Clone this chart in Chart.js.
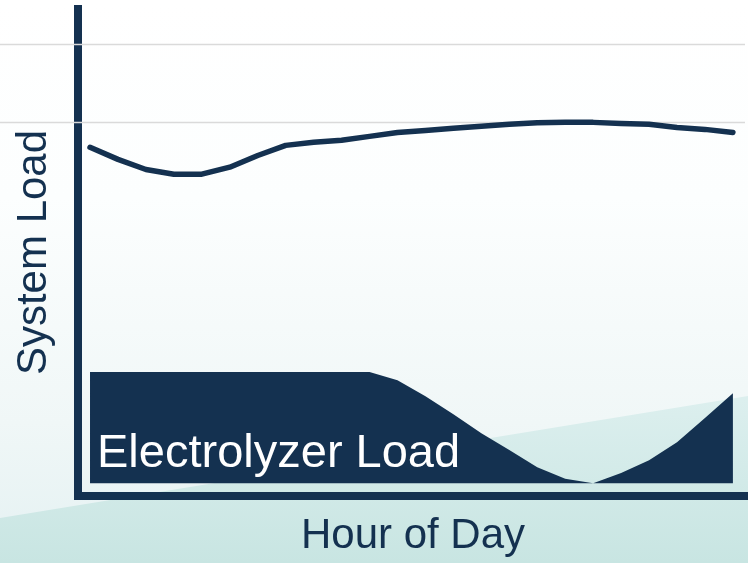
<!DOCTYPE html>
<html>
<head>
<meta charset="utf-8">
<script src="https://cdn.jsdelivr.net/npm/chart.js@4"></script>
<style>
  html, body { margin: 0; padding: 0; background: #ffffff; }
  #wrap { width: 748px; height: 563px; position: relative; }
</style>
</head>
<body>
<div id="wrap"><canvas id="loadChart"></canvas></div>
<script>
// hour of day (one point per hour)
const hours = [0, 1, 2, 3, 4, 5, 6, 7, 8, 9, 10, 11, 12, 13, 14, 15, 16, 17, 18, 19, 20, 21, 22, 23];
// system load, arbitrary units
const systemLoad = [89.5, 86.4, 83.8, 82.6, 82.6, 84.4, 87.4, 90.0, 90.8, 91.3, 92.3, 93.3,
                    93.8, 94.4, 94.9, 95.4, 95.8, 95.9, 95.9, 95.6, 95.4, 94.6, 94.1, 93.3];
// electrolyzer load, drawn down to a base level
const electrolyzerLoad = [31.8, 31.8, 31.8, 31.8, 31.8, 31.8, 31.8, 31.8, 31.8, 31.8, 31.8, 29.7,
                          25.6, 21.0, 16.1, 11.8, 7.4, 4.4, 3.3, 5.9, 9.2, 13.8, 20.0, 26.4];
const electrolyzerBase = 3.3;
// horizontal reference lines
const gridValues = [96, 116];

const NAVY = '#143150';

const backgroundPlugin = {
    id: 'slideBackground',
    beforeDraw(chart) {
        const { ctx, width, height } = chart;
        ctx.save();
        let g = ctx.createLinearGradient(0, 0, 0, height);
        g.addColorStop(0, '#ffffff');
        g.addColorStop(0.35, '#fcfefe');
        g.addColorStop(0.75, '#f0f7f7');
        g.addColorStop(1, '#e4f1f2');
        ctx.fillStyle = g;
        ctx.fillRect(0, 0, width, height);
        // darker teal band along the bottom, cut on a slant
        g = ctx.createLinearGradient(0, 400, 0, height);
        g.addColorStop(0, '#dcefee');
        g.addColorStop(1, '#c8e5e2');
        ctx.fillStyle = g;
        ctx.beginPath();
        ctx.moveTo(0, 518);
        ctx.lineTo(width, 396);
        ctx.lineTo(width, height);
        ctx.lineTo(0, height);
        ctx.closePath();
        ctx.fill();
        ctx.restore();
    }
};

const gridPlugin = {
    id: 'fullWidthGrid',
    beforeDatasetsDraw(chart) {
        const { ctx, width } = chart;
        const y = chart.scales.y;
        ctx.save();
        ctx.strokeStyle = '#dadada';
        ctx.lineWidth = 1.5;
        gridValues.forEach(v => {
            const py = Math.round(y.getPixelForValue(v)) + 0.5;
            ctx.beginPath();
            ctx.moveTo(0, py);
            ctx.lineTo(width - 3, py);
            ctx.stroke();
        });
        ctx.restore();
    }
};

const labelPlugin = {
    id: 'electrolyzerLabel',
    afterDatasetsDraw(chart) {
        const { ctx } = chart;
        const x = chart.scales.x.getPixelForValue(hours[0]) + 7;
        const y = chart.scales.y.getPixelForValue(electrolyzerBase) - 16;
        ctx.save();
        ctx.fillStyle = '#ffffff';
        ctx.font = '47px "Liberation Sans", Arial, sans-serif';
        ctx.textAlign = 'left';
        ctx.textBaseline = 'alphabetic';
        ctx.fillText('Electrolyzer Load', x, y);
        ctx.restore();
    }
};

new Chart(document.getElementById('loadChart'), {
    type: 'line',
    data: {
        datasets: [
            {
                label: 'System Load',
                data: hours.map((h, i) => ({ x: h, y: systemLoad[i] })),
                borderColor: NAVY,
                borderWidth: 5.5,
                borderCapStyle: 'round',
                borderJoinStyle: 'round',
                pointRadius: 0,
                tension: 0,
                fill: false
            },
            {
                label: 'Electrolyzer Load',
                data: hours.map((h, i) => ({ x: h, y: electrolyzerLoad[i] })),
                borderWidth: 0,
                borderColor: NAVY,
                backgroundColor: NAVY,
                pointRadius: 0,
                tension: 0,
                fill: { value: electrolyzerBase }
            }
        ]
    },
    options: {
        responsive: true,
        maintainAspectRatio: false,
        animation: false,
        layout: { padding: { top: 9, right: 0, bottom: 0, left: 0 } },
        plugins: {
            legend: { display: false },
            tooltip: { enabled: false }
        },
        scales: {
            x: {
                type: 'linear',
                min: -0.43,
                max: 23.54,
                grid: { display: false },
                ticks: { display: false },
                border: { display: true, color: NAVY, width: 8 },
                title: {
                    display: true,
                    text: 'Hour of Day',
                    color: NAVY,
                    font: { family: '"Liberation Sans", Arial, sans-serif', size: 42, lineHeight: 1.2 },
                    padding: { top: 7.2, bottom: 1.4 }
                }
            },
            y: {
                min: 0,
                max: 125,
                grid: { display: false },
                ticks: { display: false },
                border: { display: true, color: NAVY, width: 8 },
                title: {
                    display: true,
                    text: 'System Load',
                    color: NAVY,
                    font: { family: '"Liberation Sans", Arial, sans-serif', size: 42, lineHeight: 1.2 },
                    padding: { top: 9.3, bottom: 10.3 }
                }
            }
        }
    },
    plugins: [backgroundPlugin, gridPlugin, labelPlugin]
});
</script>
</body>
</html>
